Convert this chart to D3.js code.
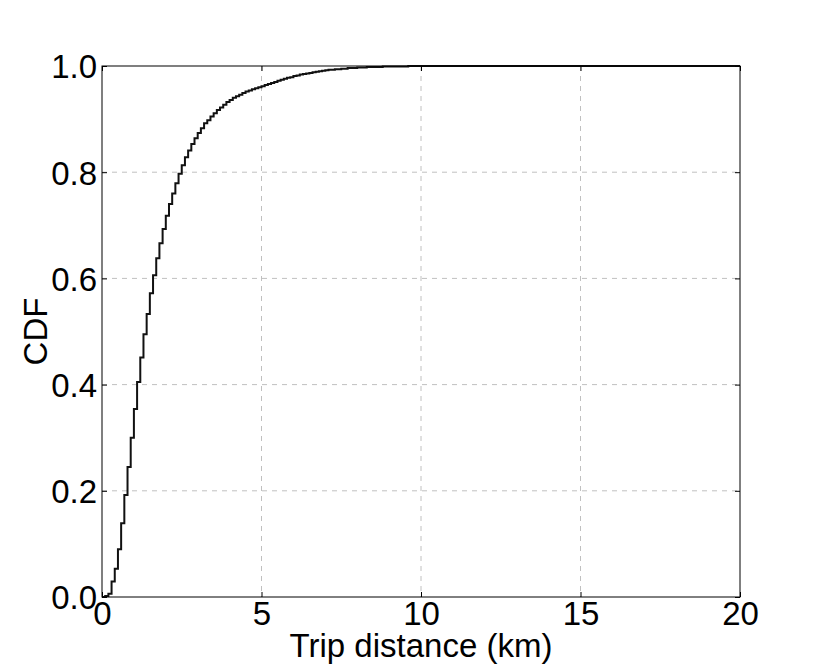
<!DOCTYPE html>
<html>
<head>
<meta charset="utf-8">
<script src="https://cdn.jsdelivr.net/npm/d3@7"></script>
<style>
  html, body { margin: 0; padding: 0; background: #fff; }
  svg { display: block; }
  text { font-family: "Liberation Sans", Arial, sans-serif; fill: #000; }
</style>
</head>
<body>
<script>
// ---- data ----
const xTicks = [0, 5, 10, 15, 20];
const yTicks = [0.0, 0.2, 0.4, 0.6, 0.8, 1.0];
const xTickLabels = ["0", "5", "10", "15", "20"];
const yTickLabels = ["0.0", "0.2", "0.4", "0.6", "0.8", "1.0"];
const binWidthKm = 0.1;
// empirical CDF value at each 0.1 km bin edge (0.0, 0.1, 0.2, ... km)
const cdfValues = [
  0.000, 0.002, 0.006, 0.029, 0.053, 0.090, 0.139, 0.192, 0.245, 0.300,
  0.354, 0.405, 0.451, 0.495, 0.533, 0.572, 0.606, 0.638, 0.666, 0.693,
  0.718, 0.740, 0.760, 0.779, 0.797, 0.813, 0.828, 0.841, 0.853, 0.864,
  0.874, 0.883, 0.892, 0.898, 0.905, 0.911, 0.917, 0.922, 0.927, 0.932,
  0.936, 0.940, 0.943, 0.946, 0.949, 0.952, 0.954, 0.956, 0.958, 0.960,
  0.962, 0.964, 0.966, 0.968, 0.970, 0.972, 0.974, 0.976, 0.978, 0.979,
  0.981, 0.982, 0.984, 0.985, 0.986, 0.987, 0.988, 0.989, 0.990, 0.991,
  0.992, 0.993, 0.993, 0.994, 0.994, 0.995, 0.995, 0.996, 0.996, 0.996,
  0.997, 0.997, 0.997, 0.998, 0.998, 0.998, 0.998, 0.998, 0.999, 0.999,
  0.999, 0.999, 0.999, 0.999, 0.999, 0.999, 1.000, 1.000, 1.000, 1.000,
  1.000
];
const tailDistance = 20;
const tailValue = 1.0;

// ---- layout ----
const W = 822, H = 664;
const m = { left: 102, top: 66, right: 82, bottom: 67 };
const iw = W - m.left - m.right, ih = H - m.top - m.bottom;

const svg = d3.select("body").append("svg").attr("width", W).attr("height", H);
const g = svg.append("g").attr("transform", `translate(${m.left},${m.top})`);

const x = d3.scaleLinear().domain([0, 20]).range([0, iw]);
const y = d3.scaleLinear().domain([0, 1]).range([ih, 0]);

// grid
const gridColor = "#c0c0c0";
g.append("g").selectAll("line").data(xTicks.slice(1, -1)).join("line")
  .attr("x1", d => x(d)).attr("x2", d => x(d)).attr("y1", 0).attr("y2", ih)
  .attr("stroke", gridColor).attr("stroke-width", 1).attr("stroke-dasharray", "5,5");
g.append("g").selectAll("line").data(yTicks.slice(1, -1)).join("line")
  .attr("x1", 0).attr("x2", iw).attr("y1", d => y(d)).attr("y2", d => y(d))
  .attr("stroke", gridColor).attr("stroke-width", 1).attr("stroke-dasharray", "5,5");

// curve
const pts = cdfValues.map((v, i) => [i * binWidthKm, v]);
pts.push([tailDistance, tailValue]);
const line = d3.line().x(d => x(d[0])).y(d => y(d[1])).curve(d3.curveStepAfter);
g.append("path").datum(pts).attr("d", line)
  .attr("fill", "none").attr("stroke", "#111").attr("stroke-width", 2)
  .attr("stroke-linejoin", "miter");

// axes with inward ticks
const fs = 33;
const xAxis = d3.axisBottom(x).tickValues(xTicks).tickFormat((d, i) => xTickLabels[i])
  .tickSizeInner(-5).tickSizeOuter(0);
const yAxis = d3.axisLeft(y).tickValues(yTicks).tickFormat((d, i) => yTickLabels[i])
  .tickSizeInner(-5).tickSizeOuter(0);
const xTop = d3.axisTop(x).tickValues(xTicks).tickFormat("").tickSizeInner(-5).tickSizeOuter(0);
const yRight = d3.axisRight(y).tickValues(yTicks).tickFormat("").tickSizeInner(-5).tickSizeOuter(0);

const gx = g.append("g").attr("transform", `translate(0,${ih})`).call(xAxis);
const gy = g.append("g").call(yAxis);
g.append("g").call(xTop);
g.append("g").attr("transform", `translate(${iw},0)`).call(yRight);

svg.selectAll(".domain").remove();
svg.selectAll(".tick line").attr("stroke", "#000").attr("stroke-width", 1);
gx.selectAll("text").attr("font-size", fs).attr("dy", null).attr("y", 28)
  .style("font-family", "'Liberation Sans', Arial, sans-serif");
gy.selectAll("text").attr("font-size", fs).attr("x", -5).attr("dy", "0.36em")
  .style("font-family", "'Liberation Sans', Arial, sans-serif");

// frame
g.append("rect").attr("x", 0).attr("y", 0).attr("width", iw).attr("height", ih)
  .attr("fill", "none").attr("stroke", "#000").attr("stroke-width", 1);

// axis titles
svg.append("text").attr("x", m.left + iw / 2 + 0).attr("y", 657)
  .attr("text-anchor", "middle").attr("font-size", fs).text("Trip distance (km)");
svg.append("text").attr("transform", `translate(47,${m.top + ih / 2}) rotate(-90)`)
  .attr("text-anchor", "middle").attr("font-size", fs).text("CDF");
</script>
</body>
</html>
